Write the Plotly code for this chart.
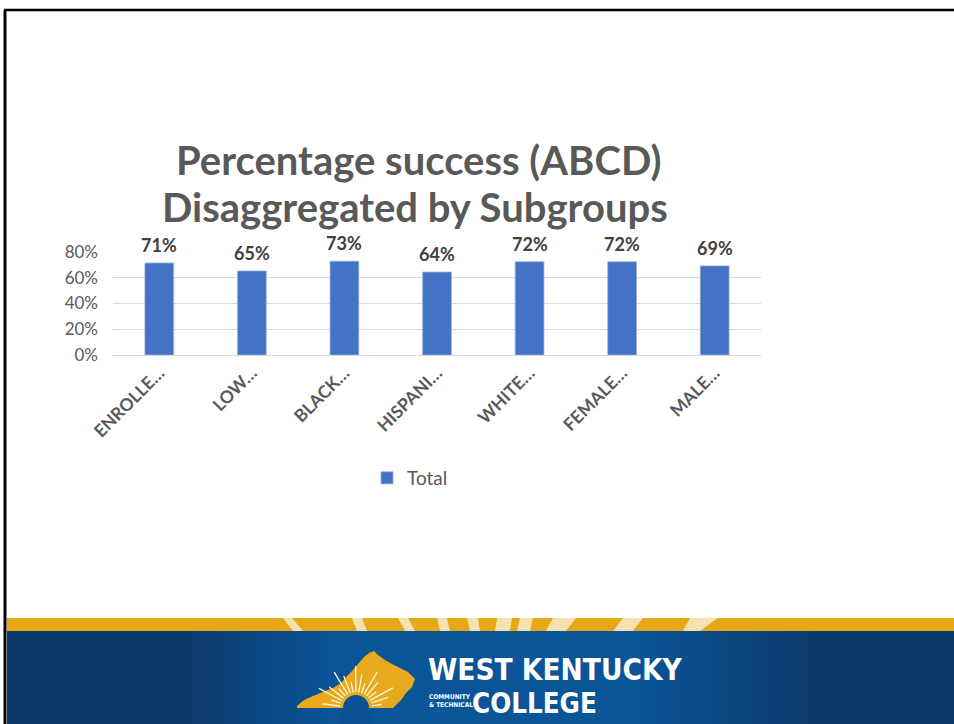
import math
import plotly.graph_objects as go

# ---------------- data ----------------
categories = ["ENROLLE…", "LOW…", "BLACK…", "HISPANI…", "WHITE…", "FEMALE…", "MALE…"]
values = [0.714, 0.652, 0.728, 0.644, 0.724, 0.724, 0.692]
series_name = "Total"
y_ticks = [0, 0.2, 0.4, 0.6, 0.8]
title_lines = ["Percentage success (ABCD)", "Disaggregated by Subgroups"]

W, H = 954, 724
FONT = "Lato, Carlito, 'Open Sans', sans-serif"
NARROW = "'Liberation Sans Narrow', 'DejaVu Sans Condensed', 'DejaVu Sans', sans-serif"
GRAY = "#595959"
BAR = "#4472C4"


def px(x):
    return x / W


def py(y):
    return 1 - y / H


fig = go.Figure()
fig.add_trace(go.Bar(
    x=categories, y=values, name=series_name,
    marker=dict(color=BAR, line=dict(color="#8fa9dc", width=0.8)),
    width=0.31,
))

# footer background gradient (decorative), drawn as a heatmap on its own axes
grad_x = list(range(0, 60))


def grad_t(i):
    xc = 7 + (i + 0.5) * (W - 7) / 60
    if xc < 180:
        return 0.0
    if xc < 330:
        return (xc - 180) / 150
    if xc < 640:
        return 1.0
    if xc < 820:
        return 1 - (xc - 640) / 180
    return 0.0


fig.add_trace(go.Heatmap(
    z=[[grad_t(i) for i in grad_x]], x=grad_x, y=[0], zsmooth="best",
    colorscale=[[0, "rgb(12,56,104)"], [1, "rgb(10,84,152)"]], zmin=0, zmax=1,
    showscale=False, hoverinfo="skip", xaxis="x2", yaxis="y2", showlegend=False,
))

shapes = []

# slide border
shapes.append(dict(type="line", xref="paper", yref="paper", x0=px(4), x1=px(954), y0=py(10), y1=py(10),
                   line=dict(color="black", width=2.5)))
shapes.append(dict(type="line", xref="paper", yref="paper", x0=px(5), x1=px(5), y0=py(10), y1=py(724),
                   line=dict(color="black", width=3)))

# yellow band
shapes.append(dict(type="rect", xref="paper", yref="paper", x0=px(7), x1=px(W), y0=py(631), y1=py(618),
                   line=dict(width=0), fillcolor="#E6A817", layer="below"))
# cream rays in yellow band  (top-left, top-right, bottom-right, bottom-left)
rays = [(283, 292, 303, 293), (352, 362, 367, 357), (398, 408, 415, 405), (437, 447, 450, 440),
        (467, 478, 480, 470), (497, 512, 510, 495), (520, 533, 530, 517), (553, 576, 566, 546),
        (623, 643, 633, 613), (690, 718, 700, 683)]
for a, b, c, d in rays:
    path = "M %f %f L %f %f L %f %f L %f %f Z" % (px(a), py(618), px(b), py(618), px(c), py(631), px(d), py(631))
    shapes.append(dict(type="path", xref="paper", yref="paper", path=path, line=dict(width=0),
                       fillcolor="#F6E1B0", layer="below"))

# logo: Kentucky-like shape
ky = [(297, 706), (304, 700), (313, 696), (323, 692), (333, 688), (341, 683), (347, 676), (353, 670),
      (359, 663), (364, 657), (369, 653), (374, 651), (378, 655), (385, 660), (392, 664), (400, 668),
      (408, 672), (415, 679), (412, 687), (406, 693), (402, 699), (397, 704), (393, 708), (297, 708)]
path = "M " + " L ".join("%f %f" % (px(x), py(y)) for x, y in ky) + " Z"
shapes.append(dict(type="path", xref="paper", yref="paper", path=path, line=dict(width=0), fillcolor="#E8A91C"))
cx, cy = 356, 708
for k in range(17):
    ang = math.radians(8 + k * 10.3)
    r0, r1 = 16, 26 + (k % 3) * 8
    shapes.append(dict(type="line", xref="paper", yref="paper",
                       x0=px(cx + r0 * math.cos(ang)), y0=py(cy - r0 * math.sin(ang)),
                       x1=px(cx + r1 * math.cos(ang)), y1=py(cy - r1 * math.sin(ang)),
                       line=dict(color="#FFF6DA", width=1.3)))
shapes.append(dict(type="circle", xref="paper", yref="paper", x0=px(cx - 13), x1=px(cx + 13),
                   y0=py(cy + 13), y1=py(cy - 13), line=dict(width=0), fillcolor="#0a5196"))
shapes.append(dict(type="rect", xref="paper", yref="paper", x0=px(cx - 16), x1=px(cx + 16),
                   y0=py(724), y1=py(cy + 0.5), line=dict(width=0), fillcolor="#0a5196"))

annotations = [
    dict(text="<b>%s</b>" % title_lines[0], xref="paper", yref="paper", x=px(419), y=py(160),
         xanchor="center", yanchor="middle", showarrow=False,
         font=dict(family=FONT, size=40, color=GRAY)),
    dict(text="<b>%s</b>" % title_lines[1], xref="paper", yref="paper", x=px(415), y=py(207),
         xanchor="center", yanchor="middle", showarrow=False,
         font=dict(family=FONT, size=40, color=GRAY)),
    dict(text="<b>WEST KENTUCKY</b>", xref="paper", yref="paper", x=px(426), y=py(670),
         xanchor="left", yanchor="middle", showarrow=False,
         font=dict(family=NARROW, size=29.5, color="white")),
    dict(text="<b>COLLEGE</b>", xref="paper", yref="paper", x=px(470), y=py(703),
         xanchor="left", yanchor="middle", showarrow=False,
         font=dict(family=NARROW, size=27.5, color="white")),
    dict(text="<b>COMMUNITY<br>&amp; TECHNICAL</b>", xref="paper", yref="paper", x=px(427), y=py(701),
         xanchor="left", yanchor="middle", showarrow=False, align="left",
         font=dict(family=NARROW, size=6.5, color="white")),
]

# data labels placed on the data axes, a little above each bar
for cat, v in zip(categories, values):
    annotations.append(dict(text="<b>%d%%</b>" % round(v * 100), x=cat, y=v, xref="x", yref="y",
                            xanchor="center", yanchor="bottom", yshift=5, showarrow=False,
                            font=dict(family=FONT, size=18, color="#404040")))

fig.update_layout(
    width=W, height=H, margin=dict(l=0, r=0, t=0, b=0, autoexpand=False),
    paper_bgcolor="white", plot_bgcolor="white",
    font=dict(family=FONT, color=GRAY),
    showlegend=True,
    legend=dict(orientation="h", x=px(367), y=py(478), xanchor="left", yanchor="middle",
                font=dict(family=FONT, size=19, color=GRAY)),
    xaxis=dict(domain=[px(113), px(761)], showgrid=False, showline=True, linecolor="#d9d9d9",
               tickangle=-45, ticks="", automargin=False,
               tickfont=dict(family=FONT, size=17.5, color=GRAY, weight="bold")),
    yaxis=dict(domain=[py(355), py(252)], range=[0, 0.8], tickvals=y_ticks, tickformat=".0%",
               showgrid=True, gridcolor="#d9d9d9", gridwidth=1, zeroline=False, showline=False,
               automargin=False, ticklabelstandoff=14, tickfont=dict(family=FONT, size=17, color=GRAY)),
    xaxis2=dict(domain=[px(7), 1], range=[-0.5, 59.5], visible=False, fixedrange=True, automargin=False),
    yaxis2=dict(domain=[0, py(631)], range=[-0.5, 0.5], visible=False, fixedrange=True, automargin=False),
    bargap=0.69,
    shapes=shapes, annotations=annotations,
)

fig.write_html("out.html", post_script="document.body.style.margin='0';document.body.style.overflow='hidden';")
